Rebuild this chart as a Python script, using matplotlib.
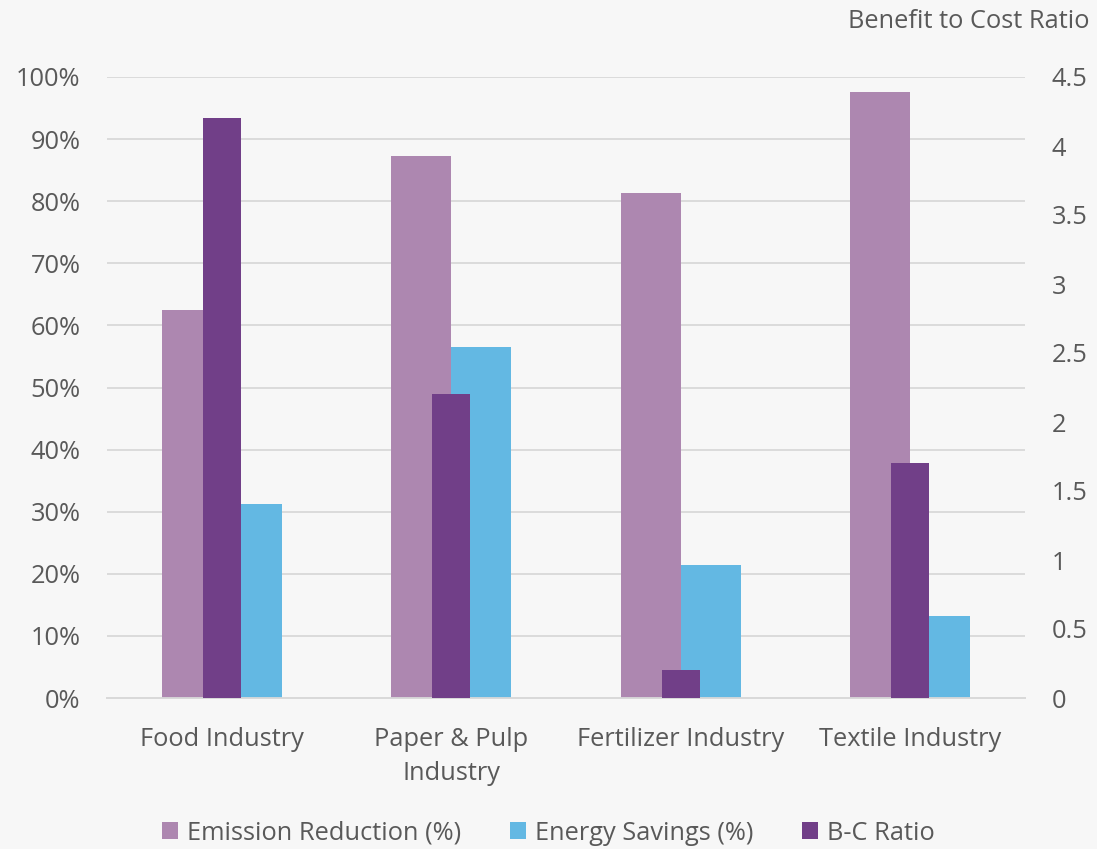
import matplotlib
matplotlib.use("Agg")
import matplotlib.pyplot as plt
from matplotlib.ticker import PercentFormatter
import numpy as np

industries = ["Food Industry", "Paper & Pulp\nIndustry", "Fertilizer Industry", "Textile Industry"]
emission_reduction = [62.5, 87.3, 81.3, 97.6]   # %
energy_savings = [31.2, 56.5, 21.4, 13.2]       # %
bc_ratio = [4.2, 2.2, 0.2, 1.7]

C_EMIS = "#ad87b0"
C_ENER = "#63b8e3"
C_BC = "#713f88"
TXT = "#595959"
GRID = "#d9d9d9"
BG = "#f7f7f7"
FS = 18.3

plt.rcParams["font.family"] = ["Open Sans", "DejaVu Sans"]

fig = plt.figure(figsize=(10.97, 8.49), dpi=100, facecolor=BG)
ax = fig.add_axes([107/1097, 151/849, 918/1097, 621/849], facecolor=BG)
ax2 = ax.twinx()

x = np.arange(len(industries))
w = 0.262
ax.bar(x - w/2, np.array(emission_reduction)/100, w, color=C_EMIS, zorder=3,
       label="Emission Reduction (%)")
ax.bar(x + w/2, np.array(energy_savings)/100, w, color=C_ENER, zorder=3,
       label="Energy Savings (%)")
ax2.bar(x, bc_ratio, 0.166, color=C_BC, zorder=3, label="B-C Ratio")

ax.set_xlim(-0.5, len(industries) - 0.5)
ax.set_ylim(0, 1)
ax.set_yticks(np.arange(0, 1.01, 0.1))
ax.yaxis.set_major_formatter(PercentFormatter(1.0, decimals=0))
ax2.set_ylim(0, 4.5)
ax2.set_yticks(np.arange(0, 4.51, 0.5))
ax2.set_yticklabels(["0", "0.5", "1", "1.5", "2", "2.5", "3", "3.5", "4", "4.5"])

ax.set_xticks(x)
ax.set_xticklabels(industries, linespacing=1.45)
ax.grid(axis="y", color=GRID, lw=1.3, zorder=0)
ax.set_axisbelow(True)

for a in (ax, ax2):
    for s in ("top", "left", "right"):
        a.spines[s].set_visible(False)
    a.spines["bottom"].set_color(GRID)
    a.spines["bottom"].set_linewidth(1.3)
    a.tick_params(length=0, labelsize=FS, labelcolor=TXT)
ax.tick_params(axis="y", pad=19)
ax.tick_params(axis="x", pad=21)
ax2.tick_params(axis="y", pad=19)

fig.text(1090/1097, 1 - 21/849, "Benefit to Cost Ratio", ha="right", va="center",
         fontsize=FS, color=TXT)

h1, l1 = ax.get_legend_handles_labels()
h2, l2 = ax2.get_legend_handles_labels()
fig.legend(h1 + h2, l1 + l2, loc="center", bbox_to_anchor=(0.5, 1 - 833/849),
           ncol=3, frameon=False, fontsize=FS, labelcolor=TXT,
           handlelength=0.65, handleheight=0.65, handletextpad=0.35, columnspacing=1.9)

fig.savefig("out.png", dpi=100, facecolor=BG)
